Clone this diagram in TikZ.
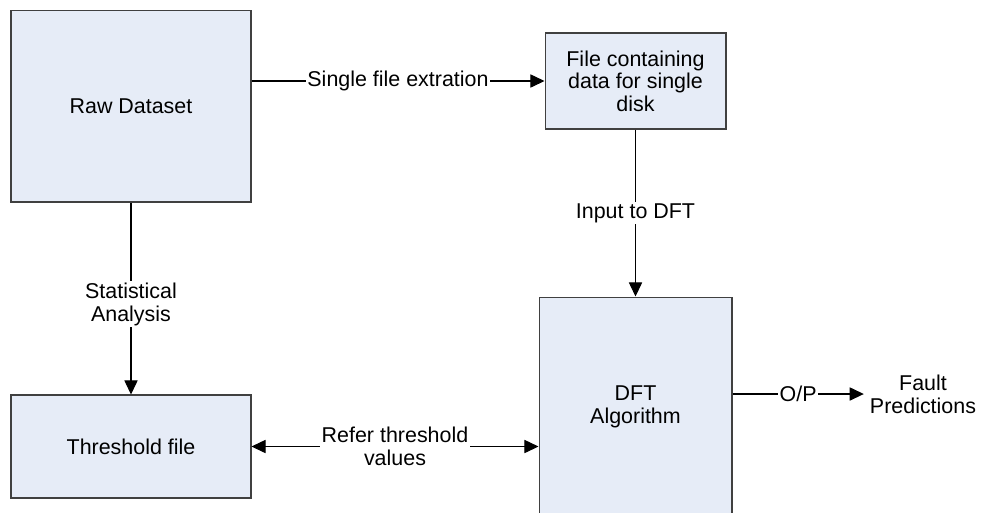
\documentclass[tikz,border=0pt]{standalone}
\usepackage{fontspec}
\setmainfont{Liberation Sans}
\usetikzlibrary{positioning, arrows.meta}
\definecolor{boxfill}{HTML}{E6ECF7}
\definecolor{boxline}{HTML}{404040}

\tikzset{
  block/.style={draw=boxline, fill=boxfill, line width=0.6pt, align=center, inner sep=0pt},
  flow/.style={-{Triangle[length=8pt, width=7.5pt]}, line width=0.6pt},
  both/.style={{Triangle[length=8pt, width=7.5pt]}-{Triangle[length=8pt, width=7.5pt]}, line width=0.6pt},
  lbl/.style={fill=white, align=center, inner sep=1pt}
}

\begin{document}
\begin{tikzpicture}[x=0.02cm, y=-0.02cm, font=\fontsize{12.2}{12.9}\selectfont]
        \useasboundingbox (0,0) rectangle (986,512);
        \fill[white] (0,0) rectangle (986,512);
        % boxes
        \node[block, minimum width=4.8cm, minimum height=3.84cm] (raw) at (131,106) {Raw Dataset};
        \node[block, minimum width=3.62cm, minimum height=1.92cm] (file) at (635.5,81)
          {File containing\\data for single\\disk};
        \node[block, minimum width=4.8cm, minimum height=2.06cm] (thr) at (131,446.5) {Threshold file};
        \node[block, minimum width=3.86cm, minimum height=4.4cm] (dft) at (635.5,407) {DFT\\Algorithm};
        \node[align=center] (fault) at (923,394) {Fault\\Predictions};
        % connectors
        \draw[flow] (file.west -| raw.east) -- node[lbl] {Single file extration} (file.west);
        \draw[flow] (file) -- node[lbl] {Input to DFT} (dft);
        \draw[flow] (raw) -- node[lbl, pos=0.53] {Statistical\\Analysis} (thr);
        \draw[both] (thr.east) -- node[lbl] {Refer threshold\\values} (dft.west |- thr.east);
        \draw[flow] (dft.east |- fault.west) -- node[lbl] {O/P} (fault.west);
      \end{tikzpicture}
\end{document}
